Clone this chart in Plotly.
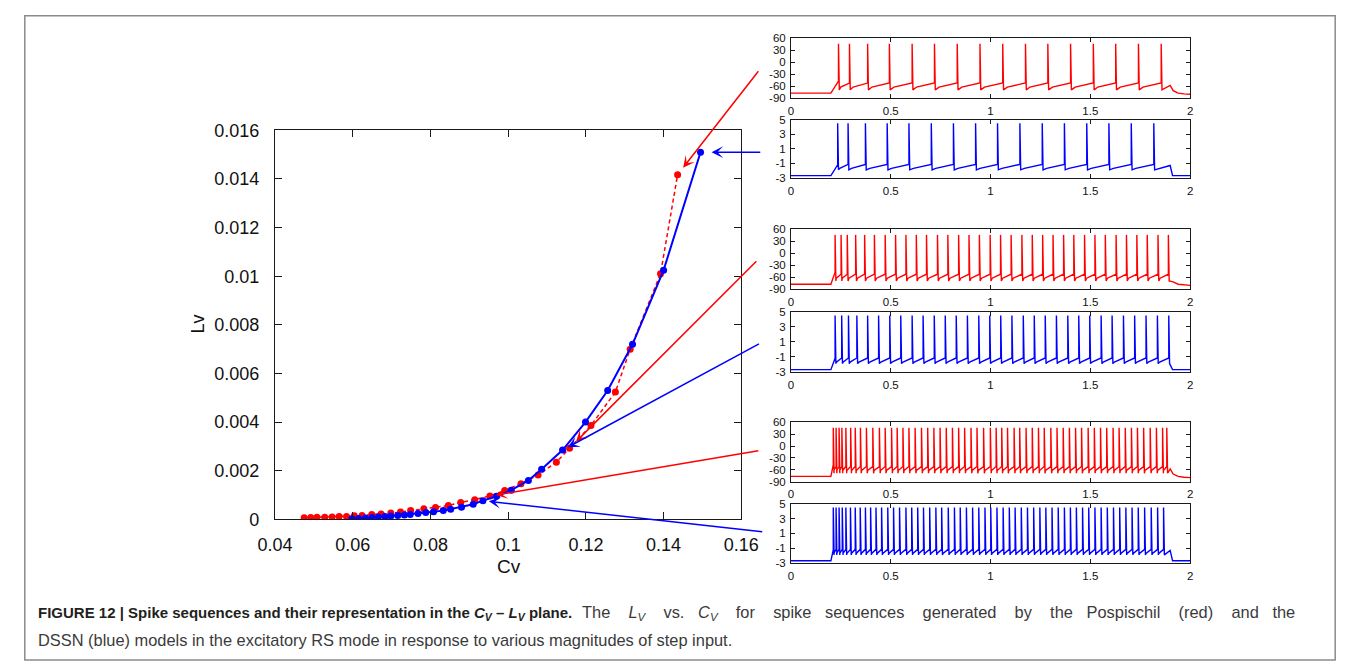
import plotly.graph_objects as go

W, H = 1360, 672

# ---- C_V / L_V points for the two neuron models ----
cv_red = [0.0475, 0.0492, 0.0508, 0.0528, 0.0547, 0.0565, 0.0584, 0.0604, 0.0624, 0.0649,
          0.0673, 0.0698, 0.0723, 0.0749, 0.0783, 0.0813, 0.0846, 0.0878, 0.0914, 0.0953,
          0.0991, 0.1033, 0.1077, 0.1124, 0.1158, 0.1213, 0.1276, 0.1314, 0.1392, 0.1436]
lv_red = [0.00007, 0.00008, 0.00009, 0.00009, 0.00010, 0.00012, 0.00012, 0.00015, 0.00016, 0.00020,
          0.00022, 0.00026, 0.00030, 0.00036, 0.00044, 0.00049, 0.00057, 0.00069, 0.00081, 0.00096,
          0.00119, 0.00147, 0.00183, 0.00235, 0.00293, 0.00386, 0.00524, 0.00700, 0.01010, 0.01417]

cv_blue = [0.0598, 0.0615, 0.0633, 0.0650, 0.0666, 0.0683, 0.0698, 0.0716, 0.0733, 0.0748,
           0.0768, 0.0788, 0.0808, 0.0833, 0.0852, 0.0880, 0.0910, 0.0935, 0.0970, 0.1008,
           0.1052, 0.1086, 0.1140, 0.1199, 0.1256, 0.1320, 0.1400, 0.1495]
lv_blue = [0.00003, 0.00004, 0.00006, 0.00008, 0.00010, 0.00012, 0.00014, 0.00016, 0.00018, 0.00020,
           0.00024, 0.00028, 0.00031, 0.00036, 0.00042, 0.00050, 0.00062, 0.00077, 0.00095, 0.00120,
           0.00160, 0.00206, 0.00285, 0.00400, 0.00530, 0.00720, 0.01025, 0.01510]

x_ticks = [0.04, 0.06, 0.08, 0.1, 0.12, 0.14, 0.16]
x_tick_text = ["0.04", "0.06", "0.08", "0.1", "0.12", "0.14", "0.16"]
y_ticks = [0, 0.002, 0.004, 0.006, 0.008, 0.01, 0.012, 0.014, 0.016]
y_tick_text = ["0", "0.002", "0.004", "0.006", "0.008", "0.01", "0.012", "0.014", "0.016"]

# ---- spike times (s) of the six membrane-potential traces ----
red_spikes_low = [0.238, 0.293, 0.384, 0.493, 0.607, 0.719, 0.833, 0.947, 1.061, 1.175,
                  1.287, 1.401, 1.515, 1.627, 1.741, 1.855]
blue_spikes_low = [0.234, 0.286, 0.373, 0.482, 0.591, 0.703, 0.814, 0.925, 1.035, 1.147,
                   1.259, 1.370, 1.482, 1.593, 1.705, 1.818]
red_spikes_mid = [0.221, 0.251, 0.282, 0.324, 0.369, 0.418, 0.472, 0.524, 0.576, 0.628,
                  0.679, 0.734, 0.786, 0.840, 0.892, 0.944, 0.998, 1.050, 1.103, 1.157,
                  1.209, 1.261, 1.313, 1.366, 1.417, 1.471, 1.523, 1.575, 1.629, 1.681,
                  1.733, 1.785, 1.839, 1.891]
blue_spikes_mid = [0.221, 0.254, 0.288, 0.330, 0.384, 0.439, 0.495, 0.550, 0.607, 0.662,
                   0.718, 0.773, 0.828, 0.884, 0.941, 0.996, 1.051, 1.107, 1.164, 1.219,
                   1.274, 1.330, 1.387, 1.442, 1.497, 1.554, 1.609, 1.666, 1.722, 1.779,
                   1.836, 1.893]
red_spikes_high = [0.212, 0.226, 0.241, 0.255, 0.275, 0.299, 0.322, 0.348, 0.378, 0.410,
                   0.443, 0.472, 0.504, 0.532, 0.561, 0.591, 0.622, 0.654, 0.685, 0.716,
                   0.747, 0.778, 0.809, 0.840, 0.870, 0.902, 0.932, 0.965, 0.999, 1.028,
                   1.056, 1.085, 1.118, 1.146, 1.178, 1.209, 1.240, 1.269, 1.302, 1.333,
                   1.364, 1.395, 1.426, 1.456, 1.489, 1.520, 1.551, 1.582, 1.614, 1.644,
                   1.675, 1.706, 1.736, 1.767, 1.800, 1.831, 1.862, 1.883]
blue_spikes_high = [0.212, 0.226, 0.241, 0.257, 0.275, 0.298, 0.322, 0.347, 0.373, 0.399,
                    0.426, 0.454, 0.485, 0.514, 0.544, 0.576, 0.605, 0.635, 0.664, 0.695,
                    0.726, 0.755, 0.788, 0.819, 0.848, 0.879, 0.910, 0.941, 0.972, 1.001,
                    1.032, 1.063, 1.094, 1.123, 1.154, 1.185, 1.216, 1.247, 1.277, 1.308,
                    1.339, 1.370, 1.400, 1.430, 1.461, 1.492, 1.523, 1.554, 1.585, 1.616,
                    1.647, 1.678, 1.709, 1.740, 1.772, 1.805, 1.837, 1.867]

# voltage levels: rest, first pre-spike, reset, knee, pre-spike, peak, bump, final
red_levels = [-77, -47, -69, -62, -52, 46, -58, -80]
blue_levels = [-2.7, -1.2, -1.9, -1.7, -1.15, 4.5, -1.3, -2.7]
stim_on, stim_off = 0.2, 1.9

red_ticks_v = [60, 30, 0, -30, -60, -90]
blue_ticks_v = [5, 3, 1, -1, -3]
time_ticks = [0, 0.5, 1, 1.5, 2]
time_tick_text = ["0", "0.5", "1", "1.5", "2"]

RED, BLUE = "#ff0000", "#0000ff"
AXC = "#1a1a1a"
FONT = "Liberation Sans, Arial, Helvetica, sans-serif"


def membrane(times, levels, blue):
    rest, first_pre, reset, knee, pre, peak, bump, final = levels
    t, v = [0.0, stim_on], [rest, rest]
    prev = None
    for s in times:
        if prev is None:
            t.append(s); v.append(first_pre)
        else:
            gap = s - prev
            t += [prev + 0.2 * gap, s]; v += [knee, pre]
        t += [s, s + 0.004]; v += [peak, reset]
        prev = s
    if stim_off - prev > 0.012:
        t.append(stim_off); v.append(bump)
    if blue:
        t += [stim_off + 0.012, 2.0]; v += [final, final]
    else:
        t += [stim_off + 0.015, stim_off + 0.04, stim_off + 0.07, 2.0]
        v += [final + 9, final + 3, final + 1, final]
    return t, v


def px(x):
    return x / W


def py(y):
    return 1 - y / H


fig = go.Figure()

# main C_V - L_V plot
fig.add_trace(go.Scatter(x=cv_red, y=lv_red, mode="lines+markers",
                         line=dict(color=RED, width=1.5, dash="4px,3px"),
                         marker=dict(color=RED, size=7), xaxis="x", yaxis="y",
                         showlegend=False))
fig.add_trace(go.Scatter(x=cv_blue, y=lv_blue, mode="lines+markers",
                         line=dict(color=BLUE, width=2),
                         marker=dict(color=BLUE, size=7), xaxis="x", yaxis="y",
                         showlegend=False))

# spike trace panels: (spikes, levels, colour, is_blue, top, bottom)
panels = [
    (red_spikes_low, red_levels, RED, False, 29, 91),
    (blue_spikes_low, blue_levels, BLUE, True, 113, 173),
    (red_spikes_mid, red_levels, RED, False, 226, 288),
    (blue_spikes_mid, blue_levels, BLUE, True, 311, 373),
    (red_spikes_high, red_levels, RED, False, 425, 486),
    (blue_spikes_high, blue_levels, BLUE, True, 509, 570),
]

layout = dict(
    width=W, height=H, margin=dict(l=0, r=0, t=0, b=0),
    paper_bgcolor="white", plot_bgcolor="white", showlegend=False,
    font=dict(family=FONT, color="#111"),
    xaxis=dict(domain=[px(264), px(743)], range=[0.04, 0.16], tickvals=x_ticks,
               ticktext=x_tick_text, ticks="inside", ticklen=7, tickcolor=AXC,
               showline=True, linecolor=AXC, linewidth=1.2, mirror="ticks",
               showgrid=False, zeroline=False, tickfont=dict(size=18, color="#111"),
               ticklabelstandoff=9, anchor="y"),
    yaxis=dict(domain=[py(525), py(124)], range=[0, 0.016], tickvals=y_ticks,
               ticktext=y_tick_text, ticks="inside", ticklen=7, tickcolor=AXC,
               showline=True, linecolor=AXC, linewidth=1.2, mirror="ticks",
               showgrid=False, zeroline=False, tickfont=dict(size=18, color="#111"),
               ticklabelstandoff=11, anchor="x"),
)

for i, (spk, lev, col, is_blue, top, bot) in enumerate(panels):
    n = i + 2
    t, v = membrane(spk, lev, is_blue)
    fig.add_trace(go.Scatter(x=t, y=v, mode="lines", line=dict(color=col, width=1.4),
                             xaxis=f"x{n}", yaxis=f"y{n}", showlegend=False))
    yt = blue_ticks_v if is_blue else red_ticks_v
    layout[f"xaxis{n}"] = dict(domain=[px(794), px(1204)], range=[0, 2], tickvals=time_ticks,
                               ticktext=time_tick_text, ticks="inside", ticklen=4,
                               tickcolor=AXC, showline=True, linecolor=AXC, linewidth=1,
                               mirror="ticks", showgrid=False, zeroline=False,
                               tickfont=dict(size=11.5, color="#111"),
                               ticklabelstandoff=2, anchor=f"y{n}")
    layout[f"yaxis{n}"] = dict(domain=[py(bot), py(top)],
                               range=[-3, 5] if is_blue else [-90, 60],
                               tickvals=yt, ticktext=[str(k) for k in yt], ticks="inside",
                               ticklen=4, tickcolor=AXC, showline=True, linecolor=AXC,
                               linewidth=1, mirror="ticks", showgrid=False, zeroline=False,
                               tickfont=dict(size=11.5, color="#111"),
                               ticklabelstandoff=2, anchor=f"x{n}")

fig.update_layout(**layout)

# arrows linking each trace pair to its point in the plane
arrows = [
    (0.1436, 0.01417, 0.16468, 0.01849, RED, 9),
    (0.1495, 0.01510, 0.16526, 0.01510, BLUE, 11),
    (0.1158, 0.00293, 0.16426, 0.01068, RED, 9),
    (0.1140, 0.00285, 0.16493, 0.00725, BLUE, 6),
    (0.0953, 0.00096, 0.16476, 0.00283, RED, 6),
    (0.0935, 0.00077, 0.16576, -0.00052, BLUE, 6),
]
annotations = []
for hx, hy, tx, ty, col, so in arrows:
    annotations.append(dict(x=hx, y=hy, xref="x", yref="y", ax=tx, ay=ty, axref="x",
                            ayref="y", showarrow=True, arrowhead=3, arrowsize=1.3,
                            arrowwidth=1.5, arrowcolor=col, standoff=so, text=""))

# first caption line is justified: widen the word gaps of its plain part
caption_words = ["The", "<i>L<sub>V</sub></i>", "vs.", "<i>C<sub>V</sub></i>", "for",
                 "spike", "sequences", "generated", "by", "the", "Pospischil",
                 "(red)", "and", "the"]
narrow_gaps = {2, 5, 9, 12}
caption_rest = caption_words[0]
for k, word in enumerate(caption_words[1:]):
    caption_rest += (" \u00a0\u00a0" if k in narrow_gaps else " \u00a0\u00a0\u00a0") + word

annotations += [
    dict(text="Lv", x=px(185), y=py(324), xref="paper", yref="paper", showarrow=False,
         xanchor="center", yanchor="middle", textangle=-90,
         font=dict(size=18, color="#111")),
    dict(text="Cv", x=px(504), y=py(574), xref="paper", yref="paper", showarrow=False,
         xanchor="center", yanchor="middle", font=dict(size=19, color="#111")),
    dict(text="<b>FIGURE 12 | Spike sequences and their representation in the "
              "<i>C<sub>V</sub></i> \u2013 <i>L<sub>V</sub></i> plane.</b>",
         x=px(18), y=py(622), xref="paper", yref="paper", showarrow=False,
         xanchor="left", yanchor="middle", font=dict(size=15, color="#231f20")),
    dict(text=caption_rest,
         x=px(577), y=py(622), xref="paper", yref="paper", showarrow=False,
         xanchor="left", yanchor="middle", font=dict(size=16.4, color="#3a3a3a")),
    dict(text="DSSN (blue) models in the excitatory RS mode in response to various "
              "magnitudes of step input.",
         x=px(18), y=py(649), xref="paper", yref="paper", showarrow=False,
         xanchor="left", yanchor="middle", font=dict(size=16.4, color="#3a3a3a")),
]

fig.update_layout(
    annotations=annotations,
    shapes=[dict(type="rect", xref="paper", yref="paper", x0=px(7), x1=px(1353),
                 y0=py(670), y1=py(6), line=dict(color="#8a8a8a", width=1.5))],
)

fig.write_html("out.html")
